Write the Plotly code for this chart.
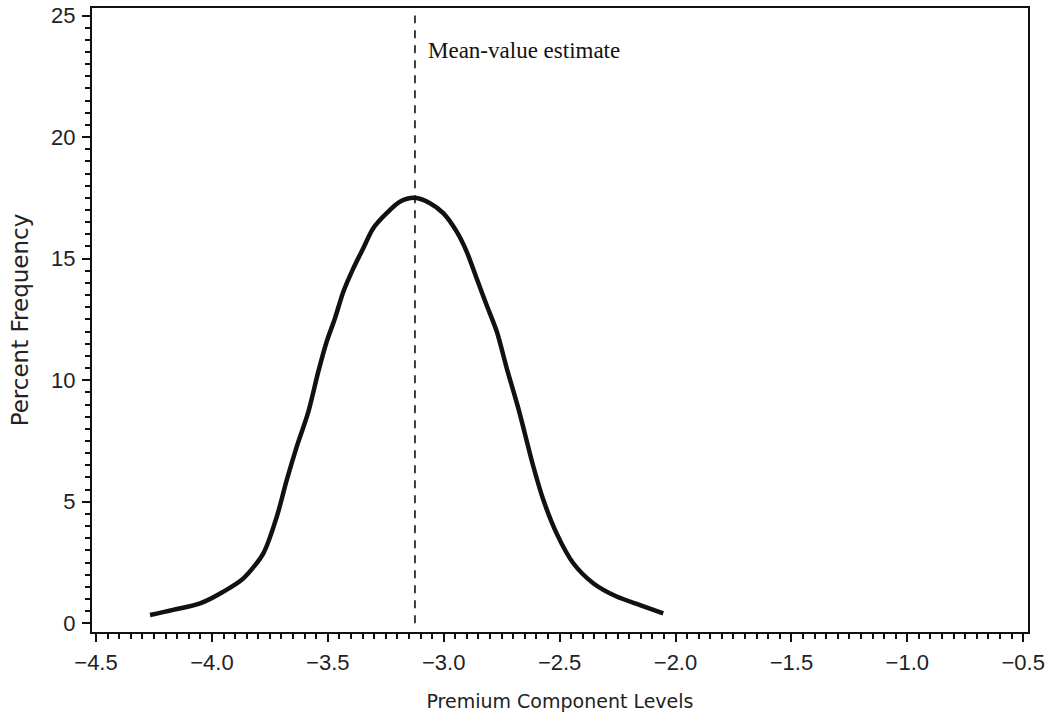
import plotly.graph_objects as go

# Curve
x_vals = [-4.267, -4.167, -4.051, -3.951, -3.864, -3.778, -3.720, -3.677, -3.634, -3.584,
          -3.541, -3.505, -3.469, -3.433, -3.390, -3.347, -3.304, -3.246, -3.189, -3.125,
          -3.059, -3.002, -2.944, -2.901, -2.858, -2.815, -2.771, -2.728, -2.678, -2.613,
          -2.570, -2.513, -2.441, -2.355, -2.254, -2.153, -2.053]
y_vals = [0.34, 0.55, 0.82, 1.30, 1.85, 2.88, 4.39, 5.90, 7.27, 8.70,
          10.35, 11.58, 12.55, 13.64, 14.60, 15.43, 16.25, 16.87, 17.34, 17.50,
          17.28, 16.87, 16.11, 15.29, 14.19, 13.09, 12.00, 10.49, 8.84, 6.44,
          5.07, 3.70, 2.47, 1.65, 1.10, 0.75, 0.41]

mean_value = -3.124
mean_label = "Mean-value estimate"
x_ticks = [-4.5, -4.0, -3.5, -3.0, -2.5, -2.0, -1.5, -1.0, -0.5]
x_tick_text = ["\u22124.5", "\u22124.0", "\u22123.5", "\u22123.0", "\u22122.5",
               "\u22122.0", "\u22121.5", "\u22121.0", "\u22120.5"]
y_ticks = [0, 5, 10, 15, 20, 25]

fig = go.Figure()
fig.add_trace(go.Scatter(x=x_vals, y=y_vals, mode="lines",
                         line=dict(color="#111111", width=4.5, shape="spline", smoothing=0.8),
                         showlegend=False, hoverinfo="skip"))

fig.add_shape(type="line", xref="x", yref="y", x0=mean_value, x1=mean_value, y0=0, y1=25,
              line=dict(color="#111111", width=1.6, dash="8px,7px"))
fig.add_annotation(x=-3.075, y=23.58, xref="x", yref="y", text=mean_label, showarrow=False,
                   xanchor="left", yanchor="middle",
                   font=dict(family="Liberation Serif", size=23, color="#111111"))

tick_font = dict(family="Liberation Sans", size=22, color="#222222")
fig.update_xaxes(range=[-4.5173, -0.4793], tickvals=x_ticks, ticktext=x_tick_text,
                 ticks="outside", ticklen=8, tickwidth=2, tickcolor="#111111",
                 minor=dict(dtick=0.05, tick0=-4.5, ticks="outside", ticklen=5, tickwidth=1.5,
                            tickcolor="#111111"),
                 showline=True, linewidth=2, linecolor="#111111", mirror=True,
                 showgrid=False, zeroline=False, tickfont=tick_font, ticklabelstandoff=2,
                 automargin=False,
                 title=dict(text="Premium Component Levels", standoff=20,
                            font=dict(family="DejaVu Sans", size=19, color="#222222")))
fig.update_yaxes(range=[-0.358, 25.31], tickvals=y_ticks,
                 ticks="outside", ticklen=8, tickwidth=2, tickcolor="#111111",
                 minor=dict(dtick=0.5, tick0=0, ticks="outside", ticklen=5, tickwidth=1.5,
                            tickcolor="#111111"),
                 showline=True, linewidth=2, linecolor="#111111", mirror=True,
                 showgrid=False, zeroline=False, tickfont=tick_font, ticklabelstandoff=2,
                 automargin=False,
                 title=dict(text="Percent Frequency", standoff=16,
                            font=dict(family="DejaVu Sans", size=23, color="#222222")))

fig.update_layout(width=1052, height=723, margin=dict(l=92, r=24, t=8, b=91, autoexpand=False),
                  plot_bgcolor="white", paper_bgcolor="white")
fig.write_html("out.html")
